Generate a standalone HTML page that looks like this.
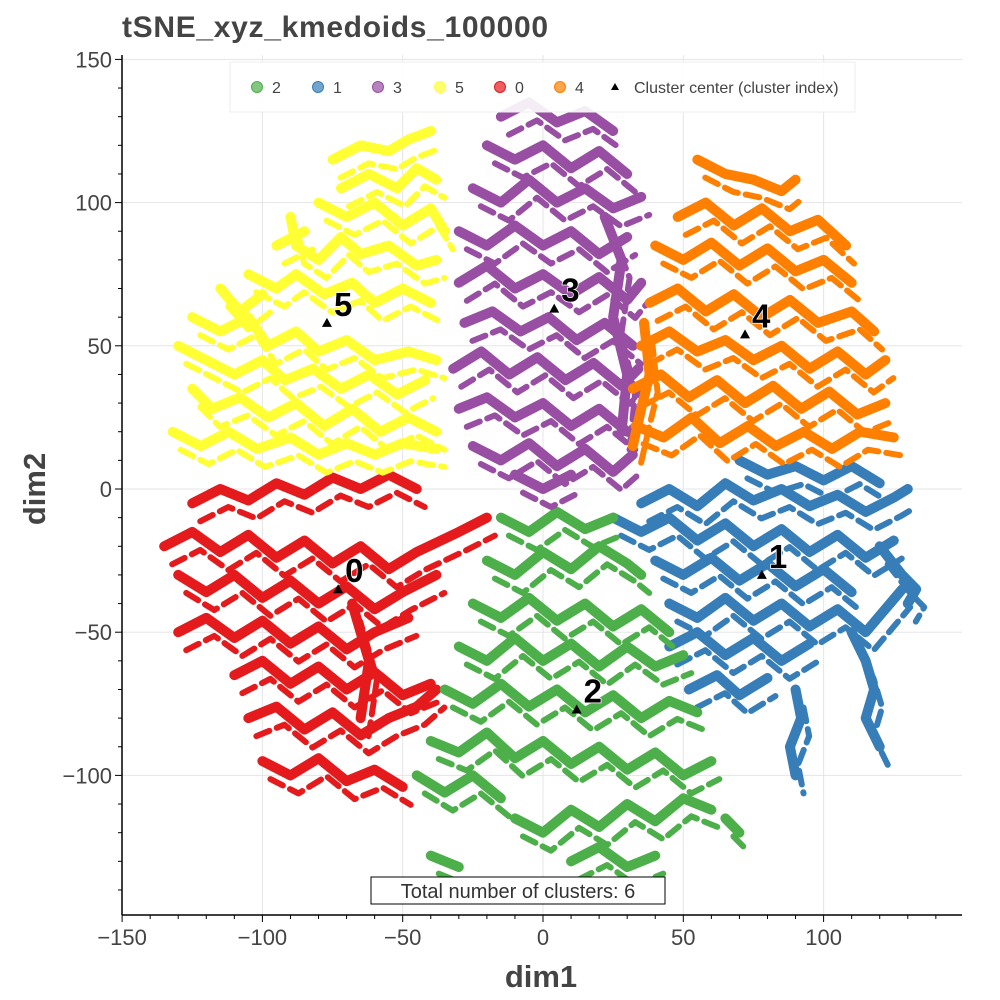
<!DOCTYPE html>
<html><head><meta charset="utf-8"><style>
html,body{margin:0;padding:0;background:#fff;}
svg{display:block;font-family:"Liberation Sans",sans-serif;}
</style></head><body>
<svg id="chart" width="1000" height="1000" viewBox="0 0 1000 1000">
<text x="122" y="37" font-size="30" font-weight="bold" fill="#444" textLength="426">tSNE_xyz_kmedoids_100000</text>
<g id="grid"></g>
<g id="data"></g>
<g id="centers"></g>
<g id="axes"></g>
<g id="legend"></g>
<g>
<rect x="371" y="877" width="294" height="27" fill="#fff" stroke="#000" stroke-width="1"/>
<text x="518" y="898" font-size="20" fill="#333" text-anchor="middle">Total number of clusters: 6</text>
</g>
<text x="541" y="987" font-size="31" font-weight="bold" fill="#444" text-anchor="middle">dim1</text>
<text x="0" y="0" font-size="31" font-weight="bold" fill="#444" text-anchor="middle" transform="translate(45,489) rotate(-90)">dim2</text>
</svg>
<script>
const xTicks=[-150,-100,-50,0,50,100];
const yTicks=[-100,-50,0,50,100,150];
const clusterIds=[0,1,2,3,4,5];
const clusterColors=["#e41a1c","#377eb8","#4daf4a","#984ea3","#ff7f00","#ffff33"];
const centerX=[-73,78,12,4,72,-77];
const centerY=[-35,-30,-77,63,54,58];
const legendOrder=[2,1,3,5,0,4];
const strokes5=[
[[-75,115],[-65,120],[-55,118],[-48,122],[-40,125]],
[[-72,105],[-62,110],[-52,105],[-45,112],[-38,108]],
[[-80,100],[-70,95],[-60,100],[-50,92],[-40,98],[-35,90]],
[[-90,95],[-88,85],[-80,80],[-72,88],[-65,82],[-55,85],[-45,78],[-38,80]],
[[-105,75],[-95,70],[-88,75],[-78,68],[-68,72],[-60,65],[-50,70],[-40,65]],
[[-125,60],[-115,55],[-105,60],[-98,50],[-88,55],[-80,48],[-70,52],[-60,45],[-48,48],[-38,45]],
[[-130,50],[-120,45],[-110,40],[-100,45],[-92,38],[-82,42],[-72,35],[-62,40],[-52,33],[-42,38]],
[[-125,35],[-118,28],[-108,32],[-98,25],[-88,30],[-78,22],[-68,28],[-58,20],[-48,25],[-38,20]],
[[-132,20],[-122,15],[-112,20],[-102,14],[-90,18],[-80,12],[-70,16],[-60,12],[-50,16],[-38,14]],
[[-115,70],[-108,62],[-100,68]],[[-95,85],[-85,90]]];
const strokes3=[
[[-15,130],[-5,135],[5,128],[15,132],[25,125]],
[[-20,120],[-10,115],[0,120],[10,112],[20,118],[30,110]],
[[-25,105],[-15,100],[-5,108],[5,100],[15,105],[25,98],[35,102]],
[[-30,90],[-20,85],[-10,92],[0,85],[10,90],[20,82],[30,88]],
[[-30,72],[-20,78],[-10,70],[0,75],[10,68],[20,74],[30,66],[35,72]],
[[-28,58],[-18,62],[-8,55],[2,60],[12,52],[22,58],[32,50]],
[[-32,42],[-22,48],[-12,40],[-2,46],[8,38],[18,44],[28,36],[34,42]],
[[-30,28],[-20,32],[-10,25],[0,30],[10,22],[20,28],[30,20]],
[[-25,15],[-15,10],[-5,16],[5,8],[15,14],[25,6],[32,12]],
[[-10,5],[0,0],[10,5]],[[22,95],[28,80],[25,60],[30,40],[28,20]]];
const strokes4=[
[[55,115],[65,110],[75,108],[85,104],[90,108]],
[[48,95],[58,100],[68,92],[78,98],[88,90],[98,94],[108,85]],
[[40,85],[50,80],[60,86],[70,78],[80,84],[90,76],[100,80],[110,72]],
[[38,65],[48,70],[58,62],[68,68],[78,60],[88,66],[98,58],[110,62],[118,55]],
[[35,50],[45,55],[55,48],[65,52],[75,45],[85,50],[95,42],[105,48],[115,40],[122,45]],
[[32,35],[42,40],[52,32],[62,38],[72,30],[82,36],[92,28],[102,34],[112,26],[122,30]],
[[33,22],[43,18],[53,25],[63,16],[73,22],[83,15],[93,20],[103,14],[113,20],[125,18]],
[[36,58],[38,40],[35,28],[32,15]]];
const strokes1=[
[[70,10],[80,5],[90,8],[100,3],[110,8],[120,2]],
[[35,-5],[45,0],[55,-6],[65,2],[75,-4],[85,0],[95,-6],[105,-2],[115,-8],[125,-3],[130,0]],
[[25,-10],[35,-15],[45,-10],[55,-18],[65,-12],[75,-20],[85,-14],[95,-22],[105,-16],[115,-24],[125,-18]],
[[40,-25],[50,-30],[60,-24],[70,-32],[80,-26],[90,-34],[100,-28],[110,-36]],
[[45,-40],[55,-45],[65,-38],[75,-46],[85,-40],[95,-48],[105,-42],[115,-50],[128,-35]],
[[45,-55],[55,-50],[65,-58],[75,-52],[85,-60],[95,-54]],
[[52,-70],[62,-65],[70,-72],[80,-66]],
[[110,-50],[115,-60],[118,-70],[115,-80],[120,-90]],
[[90,-70],[92,-80],[88,-90],[90,-100]],
[[120,-20],[128,-30],[133,-35],[130,-40]]];
const strokes2=[
[[-15,-10],[-5,-15],[5,-8],[15,-14],[25,-10]],
[[-20,-25],[-10,-30],[0,-22],[10,-28],[20,-20],[30,-26],[35,-30]],
[[-25,-40],[-15,-45],[-5,-38],[5,-46],[15,-40],[25,-48],[35,-42],[45,-50]],
[[-30,-55],[-20,-60],[-10,-52],[0,-60],[10,-54],[20,-62],[30,-55],[40,-62],[50,-58]],
[[-35,-70],[-25,-75],[-15,-68],[-5,-76],[5,-70],[15,-78],[25,-72],[35,-80],[45,-74],[55,-78]],
[[-40,-88],[-30,-92],[-20,-85],[-10,-94],[0,-88],[10,-96],[20,-90],[30,-98],[40,-92],[50,-100],[60,-95]],
[[-45,-100],[-35,-106],[-25,-100],[-15,-108]],
[[-10,-115],[0,-120],[10,-112],[20,-118],[30,-110],[40,-116],[50,-108],[60,-112]],
[[10,-130],[20,-125],[30,-132],[40,-128]],[[-40,-128],[-30,-132]],[[65,-115],[70,-120]]];
const strokes0=[
[[-125,-5],[-115,0],[-105,-4],[-95,2],[-85,-2],[-75,4],[-65,0],[-55,5],[-45,0]],
[[-135,-20],[-125,-15],[-115,-22],[-105,-16],[-95,-24],[-85,-18],[-75,-26],[-65,-20],[-55,-28],[-45,-22],[-30,-15],[-20,-10]],
[[-130,-30],[-120,-36],[-110,-30],[-100,-38],[-90,-32],[-80,-40],[-70,-34],[-60,-42],[-50,-36],[-38,-30]],
[[-130,-50],[-120,-45],[-110,-52],[-100,-46],[-90,-54],[-80,-48],[-70,-56],[-60,-50],[-48,-45]],
[[-110,-65],[-100,-60],[-90,-68],[-80,-62],[-70,-70],[-60,-64],[-50,-72],[-40,-68]],
[[-105,-80],[-95,-76],[-85,-84],[-75,-78],[-65,-86],[-55,-80],[-45,-76],[-38,-70]],
[[-100,-95],[-90,-100],[-80,-94],[-70,-102],[-60,-98],[-50,-104]],
[[-65,-80],[-62,-60],[-68,-40]]];
const clusterStrokes=[strokes0,strokes1,strokes2,strokes3,strokes4,strokes5];

const NS="http://www.w3.org/2000/svg";
const L=122,R=962,T=55,B=915;
const sx=v=>543+v*2.806;
const sy=v=>489-v*2.864;
function mk(tag,attrs,parent){const e=document.createElementNS(NS,tag);for(const k in attrs)e.setAttribute(k,attrs[k]);parent.appendChild(e);return e;}
const grid=document.getElementById('grid'),axes=document.getElementById('axes'),data=document.getElementById('data');
xTicks.forEach(t=>{const x=sx(t);if(x>L+1){const g=mk('line',{x1:x,x2:x,y1:T,y2:B,stroke:'#e5e5e5','stroke-width':1},grid);}});
yTicks.forEach(t=>{const y=sy(t);const g=mk('line',{x1:L,x2:R,y1:y,y2:y,stroke:'#e5e5e5','stroke-width':1},grid);});
clusterIds.forEach(c=>{
  clusterStrokes[c].forEach(s=>{
    const p=mk('polyline',{points:s.map(q=>sx(q[0])+','+sy(q[1])).join(' '),fill:'none',stroke:clusterColors[c],'stroke-width':10,'stroke-linecap':'round','stroke-linejoin':'round'},data);
    
    
    const p2=mk('polyline',{points:s.map(q=>(sx(q[0])+8)+','+(sy(q[1])+18)).join(' '),fill:'none',stroke:clusterColors[c],'stroke-width':6,'stroke-linecap':'round','stroke-linejoin':'round','stroke-dasharray':'14 8'},data);
    
    
  });
});
const cg=document.getElementById('centers');
clusterIds.forEach(c=>{
  const x=sx(centerX[c]),y=sy(centerY[c]);
  const tr=mk('path',{d:`M${x},${y-5}L${x+5},${y+4}L${x-5},${y+4}Z`,fill:'#000'},cg);
  
  
  const t=mk('text',{x:x+7,y:y-7,'font-size':33,'font-weight':'bold',fill:'#000',stroke:'#fff','stroke-width':1.5,'paint-order':'stroke'},cg);
  t.textContent=String(c);
  
  
});
mk('line',{x1:L,x2:L,y1:T,y2:B,stroke:'#000','stroke-width':1.5},axes);
mk('line',{x1:L,x2:R,y1:B,y2:B,stroke:'#000','stroke-width':1.5},axes);
for(let v=-150;v<=140;v+=10){const x=sx(v);if(x<L-1)continue;const major=v%50===0;mk('line',{x1:x,x2:x,y1:B,y2:B+(major?7:4),stroke:'#000'},axes);}
for(let v=-140;v<=150;v+=10){const y=sy(v);if(y<T-1||y>B)continue;const major=v%50===0;mk('line',{x1:L,x2:L-(major?7:4),y1:y,y2:y,stroke:'#000'},axes);}
xTicks.forEach(t=>{const e=mk('text',{x:sx(t),y:B+30,'font-size':22,fill:'#444','text-anchor':'middle'},axes);e.textContent=(t<0?'\u2212'+(-t):t);});
yTicks.forEach(t=>{const e=mk('text',{x:L-10,y:sy(t)+8,'font-size':22,fill:'#444','text-anchor':'end'},axes);e.textContent=(t<0?'\u2212'+(-t):t);});
const lg=document.getElementById('legend');
mk('rect',{x:230,y:62,width:625,height:50,fill:'#fff','fill-opacity':0.9,stroke:'#eee'},lg);
const lx=[257,318,378,440,500,560];
legendOrder.forEach((c,i)=>{
  const it=mk('g',{},lg);
  
  
  mk('circle',{cx:lx[i],cy:87,r:5.5,fill:clusterColors[c],'fill-opacity':0.7,stroke:clusterColors[c]},it);
  const t=mk('text',{x:lx[i]+15,y:93,'font-size':16,fill:'#444'},it);t.textContent=String(c);
});
const ce=mk('g',{},lg);


mk('path',{d:'M615,83L619,90L611,90Z',fill:'#000'},ce);
const ct=mk('text',{x:634,y:93,'font-size':16,fill:'#444'},ce);ct.textContent='Cluster center (cluster index)';
</script>
</body></html>
